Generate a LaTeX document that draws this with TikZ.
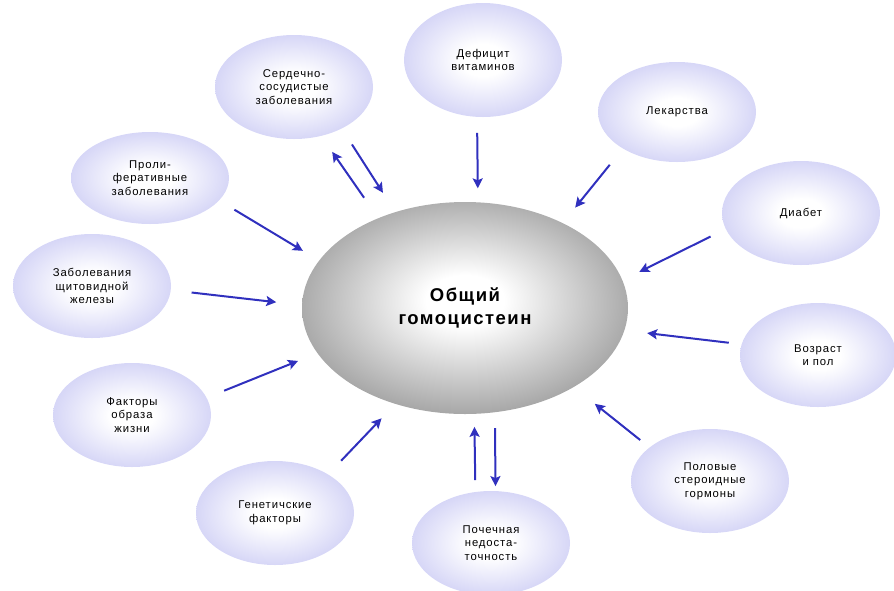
\documentclass[tikz,border=0pt]{standalone}
\usepackage{fontspec}
\usetikzlibrary{shapes.geometric,arrows.meta}
\newfontfamily\labelfont[LetterSpace=8]{Liberation Sans}

\definecolor{lavender}{RGB}{192,192,242}
\definecolor{arrowblue}{RGB}{48,48,190}
\pgfdeclareradialshading{factorball}{\pgfpoint{0bp}{0bp}}{color(0bp)=(white); color(7bp)=(white); color(35bp)=(lavender); color(50bp)=(lavender)}
\pgfdeclareradialshading{hubball}{\pgfpoint{0bp}{2bp}}{color(0bp)=(white); color(6bp)=(white); color(32bp)=(black!45); color(50bp)=(black!50)}

\tikzset{
	factor/.style={ellipse, shading=factorball, minimum width=158pt, minimum height=104pt,
		inner sep=0pt, outer sep=0pt, align=center, font=\labelfont\fontsize{11.3}{13.5}\selectfont},
	hub/.style={ellipse, shading=hubball, minimum width=326pt, minimum height=212pt,
		inner sep=0pt, outer sep=0pt, align=center, font=\labelfont\bfseries\fontsize{18.5}{23}\selectfont},
	link/.style={->, arrowblue, line width=2pt}
}

\begin{document}
\begin{tikzpicture}[x=1pt, y=-1pt, >={Stealth[length=10pt, width=10pt, inset=2pt]}]
		\useasboundingbox (0,0) rectangle (894,590);

		\draw
		(465,308) node [hub] (hcy) {Общий\\гомоцистеин}
		(294,87) node [factor] (cardio) {Сердечно-\\сосудистые\\заболевания}
		(483,60) node [factor, minimum height=114pt] (vitamin) {Дефицит\\витаминов}
		(677,112) node [factor, minimum height=100pt] (drugs) {Лекарства}
		(801,213) node [factor] (diabetes) {Диабет}
		(818,355) node [factor, minimum width=156pt] (age) {Возраст\\и пол}
		(710,481) node [factor] (steroid) {Половые\\стероидные\\гормоны}
		(491,543) node [factor] (kidney) {Почечная\\недоста-\\точность}
		(275,513) node [factor] (genetic) {Генетичские\\факторы}
		(132,415) node [factor] (lifestyle) {Факторы\\образа\\жизни}
		(92,286) node [factor] (thyroid) {Заболевания\\щитовидной\\железы}
		(150,178) node [factor, minimum height=92pt] (prolif) {Проли-\\феративные\\заболевания};

		% arrows towards the hub
		\draw[link, shorten <=19pt, shorten >=23pt] (cardio.319) -- (hcy.126);
		\draw[link, shorten <=16pt, shorten >=14pt] (vitamin.264) -- (hcy.83.5);
		\draw[link, shorten <=21pt, shorten >=20pt] (drugs.214.8) -- (hcy.41.9);
		\draw[link, shorten <=17pt, shorten >=19pt] (diabetes.192.6) -- (hcy.10.4);
		\draw[link, shorten <=13pt, shorten >=23pt] (age.172.2) -- (hcy.352.1);
		\draw[link, shorten <=12pt, shorten >=27pt] (steroid.151.3) -- (hcy.324.9);
		\draw[link, shorten <=12pt, shorten >=13pt] (kidney.107.5) -- (hcy.275.4);
		\draw[link, shorten <=19pt, shorten >=20pt] (genetic.36.7) -- (hcy.234.2);
		\draw[link, shorten <=19pt, shorten >=21pt] (lifestyle.13.4) -- (hcy.197);
		\draw[link, shorten <=21pt, shorten >=26pt] (thyroid.357.5) -- (hcy.179);
		\draw[link, shorten <=18pt, shorten >=19pt] (prolif.342.2) -- (hcy.162.6);

		% arrows away from the hub
		\draw[link, shorten <=25pt, shorten >=19.5pt] (hcy.134.6) -- (cardio.299.1);
		\draw[link, shorten <=16pt, shorten >=5pt] (hcy.286.1) -- (kidney.85.6);
\end{tikzpicture}
\end{document}
